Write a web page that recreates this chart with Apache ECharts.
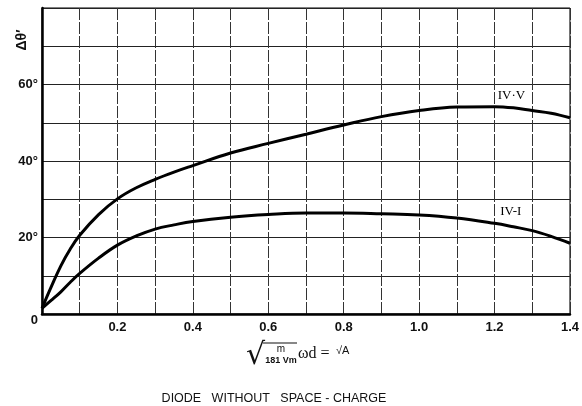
<!DOCTYPE html>
<html><head><meta charset="utf-8">
<script src="https://cdn.jsdelivr.net/npm/echarts@6/dist/echarts.min.js"></script>
<style>html,body{margin:0;padding:0;background:#fff}#c{width:582px;height:406px}</style>
</head><body><div id="c"></div>
<script>
// x values (sqrt A)
const xValues = [0, 0.025, 0.05, 0.075, 0.1, 0.15, 0.2, 0.25, 0.3, 0.35, 0.4, 0.5, 0.6, 0.7, 0.8, 0.9, 1.0, 1.1, 1.2, 1.25, 1.3, 1.35, 1.4];
// Δθ' for IV·V (upper curve), degrees
const ivV = [1.5, 7.2, 12.6, 17.0, 20.6, 26.0, 30.1, 33.0, 35.2, 37.1, 38.8, 42.1, 44.6, 47.0, 49.4, 51.6, 53.2, 54.1, 54.2, 53.9, 53.2, 52.5, 51.3];
// Δθ' for IV-I (lower curve), degrees
const ivI = [1.5, 3.6, 5.8, 8.3, 10.6, 14.6, 18.0, 20.4, 22.2, 23.3, 24.2, 25.3, 26.0, 26.4, 26.4, 26.2, 25.9, 25.1, 23.7, 22.8, 21.8, 20.3, 18.5];
const seriesNames = ['IV·V', 'IV-I'];
const seriesLabelAt = [[1.245, 57.1], [1.243, 26.8]];
const xTickLabels = {2: '0.2', 4: '0.4', 6: '0.6', 8: '0.8', 10: '1.0', 12: '1.2', 14: '1.4'};
const yTickLabels = {0: '0', 20: '20°', 40: '40°', 60: '60°'};
const yAxisName = 'Δθ\u2032';
const chartTitle = 'DIODE   WITHOUT   SPACE - CHARGE';

const chart = echarts.init(document.getElementById('c'), null, {renderer: 'canvas'});
const lbl = {color: '#111', fontFamily: 'Liberation Sans, Arial, sans-serif', fontSize: 13, fontWeight: 'bold'};
function mkSeries(i, vals) {
  return {
    name: seriesNames[i], type: 'line', smooth: 0.4, symbol: 'none',
    data: xValues.map((x, k) => [x, vals[k]]),
    lineStyle: {color: '#000', width: 3},
    markPoint: {
      symbol: 'circle', symbolSize: 0,
      label: {show: true, formatter: seriesNames[i], color: '#000', fontFamily: 'Liberation Serif, DejaVu Serif, serif', fontSize: 13, position: 'inside'},
      data: [{coord: seriesLabelAt[i]}]
    }
  };
}
chart.setOption({
  animation: false,
  backgroundColor: '#fff',
  grid: {left: 42, right: 3, top: 8, bottom: 92, show: true, borderColor: '#000', borderWidth: 1},
  xAxis: {
    type: 'value', min: 0, max: 1.4, interval: 0.1,
    axisLine: {show: true, lineStyle: {color: '#000', width: 2.5}},
    axisTick: {show: false},
    axisLabel: Object.assign({}, lbl, {margin: 7, showMaxLabel: true, formatter: v => xTickLabels[Math.round(v * 10)] || ''}),
    splitLine: {show: true, lineStyle: {color: '#333', width: 1, type: [12, 2]}}
  },
  yAxis: {
    type: 'value', min: 0, max: 80, interval: 10,
    axisLine: {show: true, lineStyle: {color: '#000', width: 2.5}},
    axisTick: {show: false},
    axisLabel: Object.assign({}, lbl, {
      margin: 4,
      formatter: v => { const t = yTickLabels[Math.round(v)] || ''; return Math.round(v) === 0 ? '{z|' + t + '}' : t; },
      rich: {z: {color: '#111', fontFamily: 'Liberation Sans, Arial, sans-serif', fontSize: 13, fontWeight: 'bold', padding: [12, 0, 0, 0]}}
    }),
    splitLine: {show: true, lineStyle: {color: '#222', width: 1.2}}
  },
  series: [mkSeries(0, ivV), mkSeries(1, ivI)],
  graphic: [
    {type: 'text', x: 22, y: 40, rotation: Math.PI / 2,
     style: {text: yAxisName, fill: '#111', font: 'bold 14px Liberation Sans, sans-serif', textAlign: 'center', textVerticalAlign: 'middle'}},
    // x-axis formula
    {type: 'text', left: 246, top: 341, style: {text: '√', fill: '#111', font: '30px DejaVu Sans, sans-serif'}},
    {type: 'line', shape: {x1: 263, y1: 343, x2: 297, y2: 343}, style: {stroke: '#111', lineWidth: 1.2}},
    {type: 'text', x: 281, y: 349, style: {text: 'm', fill: '#111', font: '10px Liberation Sans, sans-serif', textAlign: 'center', textVerticalAlign: 'middle'}},
    {type: 'text', x: 281, y: 361, style: {text: '181 Vm', fill: '#111', font: 'bold 9px Liberation Sans, sans-serif', textAlign: 'center', textVerticalAlign: 'middle'}},
    {type: 'text', x: 298, y: 354, style: {text: 'ωd = ', fill: '#111', font: '16px Liberation Serif, serif', textAlign: 'left', textVerticalAlign: 'middle'}},
    {type: 'text', x: 336, y: 351, style: {text: '√A', fill: '#111', font: '11px Liberation Sans, sans-serif', textAlign: 'left', textVerticalAlign: 'middle'}},
    {type: 'text', x: 274, y: 399, style: {text: chartTitle, fill: '#111', font: '12.5px Liberation Sans, sans-serif', textAlign: 'center', textVerticalAlign: 'middle'}}
  ]
});
</script></body></html>
